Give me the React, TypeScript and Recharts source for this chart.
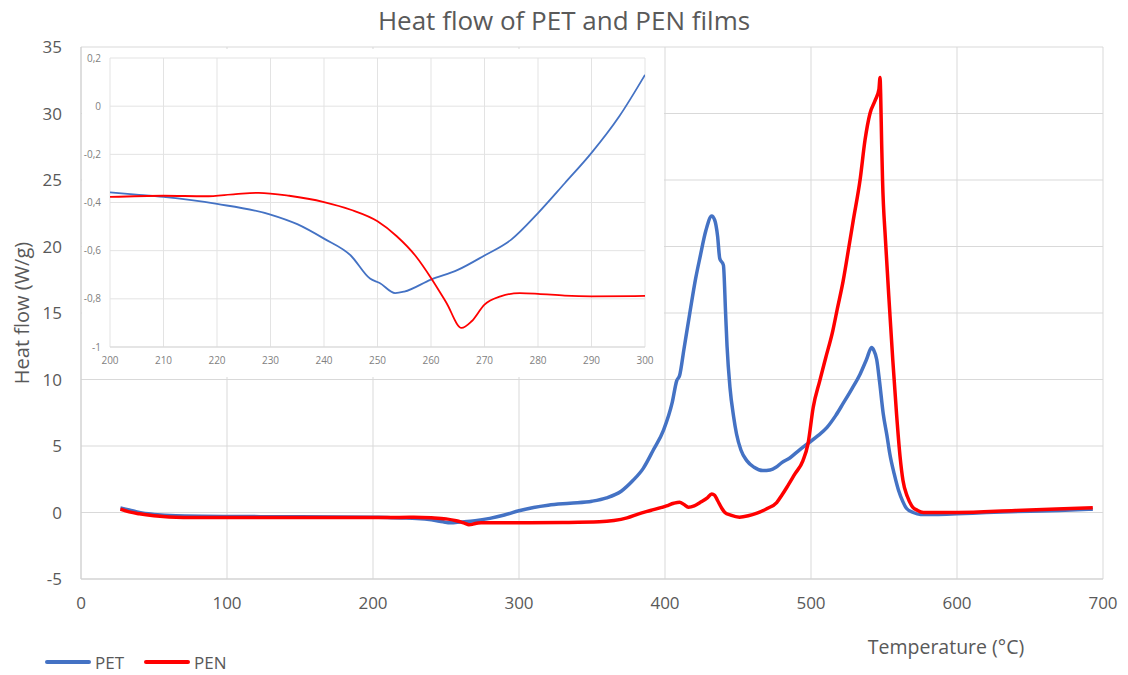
import React from 'react';
import { LineChart, Line, XAxis, YAxis, CartesianGrid } from 'recharts';

// ---------- Main chart data ----------
const petTemp = [27, 33, 40, 50, 65, 100, 150, 200, 210, 220, 230, 240, 248, 253, 260, 270, 280, 290, 300, 310, 320, 335, 350, 360, 370, 378, 385, 392, 399, 405, 408, 410, 413, 417, 421, 424, 428, 432, 434, 436, 437.5, 440, 441.5, 442.5, 444.5, 447, 449, 452, 456, 461, 467, 472, 476, 480, 485.5, 491, 498, 505, 511, 517, 522, 528, 533.6, 538, 541.5, 543, 545, 547, 549.5, 552, 554, 557, 560, 563, 565.5, 570, 575, 585, 600, 620, 650, 670, 693];
const petFlow = [0.35, 0.2, 0.0, -0.15, -0.25, -0.3, -0.32, -0.36, -0.38, -0.41, -0.45, -0.55, -0.7, -0.78, -0.72, -0.62, -0.44, -0.19, 0.13, 0.38, 0.55, 0.7, 0.85, 1.1, 1.6, 2.4, 3.3, 4.7, 6.2, 8.3, 9.9, 10.3, 12.3, 15, 17.6, 19.2, 21.2, 22.3, 22.0, 20.8, 19.1, 18.6, 15, 12.5, 9.4, 7.2, 5.9, 4.7, 3.9, 3.4, 3.15, 3.2, 3.4, 3.75, 4.1, 4.6, 5.2, 5.8, 6.4, 7.3, 8.2, 9.3, 10.4, 11.5, 12.4, 12.2, 11.5, 9.8, 7.4, 5.8, 4.4, 2.9, 1.65, 0.8, 0.3, 0.0, -0.15, -0.15, -0.1, 0.0, 0.1, 0.15, 0.25];

const penTemp = [27, 33, 40, 50, 70, 100, 150, 200, 218, 228, 240, 250, 257, 260, 263, 265.7, 268, 270, 274, 280, 300, 330, 355, 365, 374, 382, 390, 401, 406, 410, 413, 416, 420, 424, 429, 432, 434, 436, 439, 441, 445, 451, 457, 463, 470, 476.5, 480, 483.5, 489, 494.5, 498, 501.5, 506, 510, 515, 518, 522, 526, 529, 533.6, 537, 540.4, 544, 546.5, 547.3, 547.7, 548.4, 549, 551, 554, 556, 558.6, 561, 563, 566, 569, 573, 577, 600, 640, 693];
const penFlow = [0.25, 0.05, -0.1, -0.25, -0.38, -0.38, -0.37, -0.38, -0.37, -0.36, -0.4, -0.48, -0.62, -0.71, -0.82, -0.92, -0.89, -0.82, -0.78, -0.78, -0.77, -0.75, -0.7, -0.6, -0.4, -0.1, 0.15, 0.5, 0.7, 0.78, 0.6, 0.4, 0.5, 0.75, 1.1, 1.4, 1.3, 0.9, 0.3, 0.0, -0.2, -0.35, -0.25, -0.05, 0.3, 0.75, 1.3, 1.9, 2.9, 3.9, 5.2, 7.9, 9.9, 11.6, 13.7, 15.3, 17.4, 20, 22, 25, 28, 30, 31, 31.8, 32.7, 31.5, 27.7, 25, 20.5, 15, 11.5, 7.4, 4.2, 2.4, 1.2, 0.5, 0.15, 0.0, 0.0, 0.15, 0.35];

const mainXTicks = [0, 100, 200, 300, 400, 500, 600, 700];
const mainYTicks = [-5, 0, 5, 10, 15, 20, 25, 30, 35];

// ---------- Inset (zoom 200-300 °C) data ----------
const insetPetTemp = [200, 204.9, 210, 220, 230, 235, 240, 245, 248.6, 250.4, 253.3, 255, 260, 265, 270, 275, 280, 285, 290, 295.2, 300];
const insetPetFlow = [-0.358, -0.367, -0.377, -0.406, -0.45, -0.49, -0.55, -0.62, -0.716, -0.734, -0.776, -0.77, -0.72, -0.68, -0.62, -0.554, -0.444, -0.32, -0.194, -0.042, 0.13];
const insetPenTemp = [200, 210, 217.8, 223.5, 227.8, 233.5, 240, 245, 250, 253.6, 257.2, 260, 262.9, 265.7, 267.6, 270, 273, 276.6, 280, 285, 290, 300];
const insetPenFlow = [-0.377, -0.372, -0.374, -0.365, -0.36, -0.372, -0.398, -0.43, -0.478, -0.54, -0.624, -0.713, -0.817, -0.921, -0.893, -0.824, -0.79, -0.776, -0.779, -0.787, -0.79, -0.788];

const insetXTicks = [200, 210, 220, 230, 240, 250, 260, 270, 280, 290, 300];
const insetYTicks = [-1, -0.8, -0.6, -0.4, -0.2, 0, 0.2];

const seriesNames = ['PET', 'PEN'];
const seriesColors = ['#4472C4', '#FF0000'];

const FONT = '"Open Sans", sans-serif';
const TEXT = '#595959';

const zip = (t: number[], v: number[]) => t.map((x, i) => ({ t: x, v: v[i] }));

const petMain = zip(petTemp, petFlow);
const penMain = zip(penTemp, penFlow);
const petInset = zip(insetPetTemp, insetPetFlow);
const penInset = zip(insetPenTemp, insetPenFlow);

const commaFmt = (v: number) => String(Math.round(v * 10) / 10).replace('.', ',');

export default function App() {
  return (
    <div style={{ position: 'absolute', left: 0, top: 0, width: 1128, height: 675, background: '#fff', fontFamily: FONT, overflow: 'hidden' }}>
      <LineChart width={1128} height={675} margin={{ top: 47, right: 25, bottom: 66, left: 0 }}>
        <CartesianGrid stroke="#d9d9d9" strokeWidth={1} />
        <XAxis
          type="number"
          dataKey="t"
          domain={[0, 700]}
          ticks={mainXTicks}
          height={30}
          tickSize={0}
          tickMargin={18}
          axisLine={{ stroke: '#d0d0d0' }}
          tick={{ fill: TEXT, fontSize: 17, fontFamily: FONT }}
          allowDataOverflow
        />
        <YAxis
          type="number"
          domain={[-5, 35]}
          ticks={mainYTicks}
          width={81}
          tickSize={0}
          tickMargin={19}
          axisLine={{ stroke: '#d0d0d0' }}
          tick={{ fill: TEXT, fontSize: 17, fontFamily: FONT }}
          allowDataOverflow
        />
        <Line data={petMain} dataKey="v" name={seriesNames[0]} type="monotone" stroke={seriesColors[0]} strokeWidth={3.5} dot={false} isAnimationActive={false} />
        <Line data={penMain} dataKey="v" name={seriesNames[1]} type="monotone" stroke={seriesColors[1]} strokeWidth={3.5} dot={false} isAnimationActive={false} />
      </LineChart>

      {/* Inset */}
      <div style={{ position: 'absolute', left: 82, top: 49, width: 582, height: 328, background: '#fff' }}>
        <LineChart width={582} height={328} margin={{ top: 9, right: 19, bottom: 0, left: 0 }}>
          <CartesianGrid stroke="#e3e3e3" strokeWidth={1} />
          <XAxis
            type="number"
            dataKey="t"
            domain={[200, 300]}
            ticks={insetXTicks}
            height={30}
            tickSize={0}
            tickMargin={10}
            axisLine={{ stroke: '#d9d9d9' }}
            tick={{ fill: '#7f7f7f', fontSize: 10, fontFamily: FONT }}
            allowDataOverflow
          />
          <YAxis
            type="number"
            domain={[-1, 0.2]}
            ticks={insetYTicks}
            width={28}
            tickSize={0}
            tickMargin={9}
            axisLine={false}
            tickFormatter={commaFmt}
            tick={{ fill: '#7f7f7f', fontSize: 10, fontFamily: FONT }}
            allowDataOverflow
          />
          <Line data={petInset} dataKey="v" name={seriesNames[0]} type="monotone" stroke={seriesColors[0]} strokeWidth={1.8} dot={false} isAnimationActive={false} />
          <Line data={penInset} dataKey="v" name={seriesNames[1]} type="monotone" stroke={seriesColors[1]} strokeWidth={1.8} dot={false} isAnimationActive={false} />
        </LineChart>
      </div>

      {/* Title */}
      <div style={{ position: 'absolute', left: 0, width: 1128, top: 2, textAlign: 'center', fontSize: 26, color: TEXT, lineHeight: '36px' }}>
        Heat flow of PET and PEN films
      </div>

      {/* Y axis title */}
      <div style={{ position: 'absolute', left: 22, top: 313, width: 0, height: 0 }}>
        <div style={{ position: 'absolute', transform: 'translate(-50%, -50%) rotate(-90deg)', whiteSpace: 'nowrap', fontSize: 20, color: TEXT, lineHeight: '24px' }}>
          Heat flow (W/g)
        </div>
      </div>

      {/* X axis title */}
      <div style={{ position: 'absolute', left: 946, top: 647, width: 0, height: 0 }}>
        <div style={{ position: 'absolute', transform: 'translate(-50%, -50%)', whiteSpace: 'nowrap', fontSize: 19.5, color: TEXT, lineHeight: '24px' }}>
          Temperature (°C)
        </div>
      </div>

      {/* Legend */}
      <div style={{ position: 'absolute', left: 45, top: 650, height: 24, display: 'flex', alignItems: 'center', fontSize: 17, color: TEXT }}>
        {seriesNames.map((n, i) => (
          <div key={n} style={{ display: 'flex', alignItems: 'center', marginRight: 20 }}>
            <div style={{ width: 46, height: 4, background: seriesColors[i], borderRadius: 2, marginRight: 4 }} />
            <span>{n}</span>
          </div>
        ))}
      </div>
    </div>
  );
}
